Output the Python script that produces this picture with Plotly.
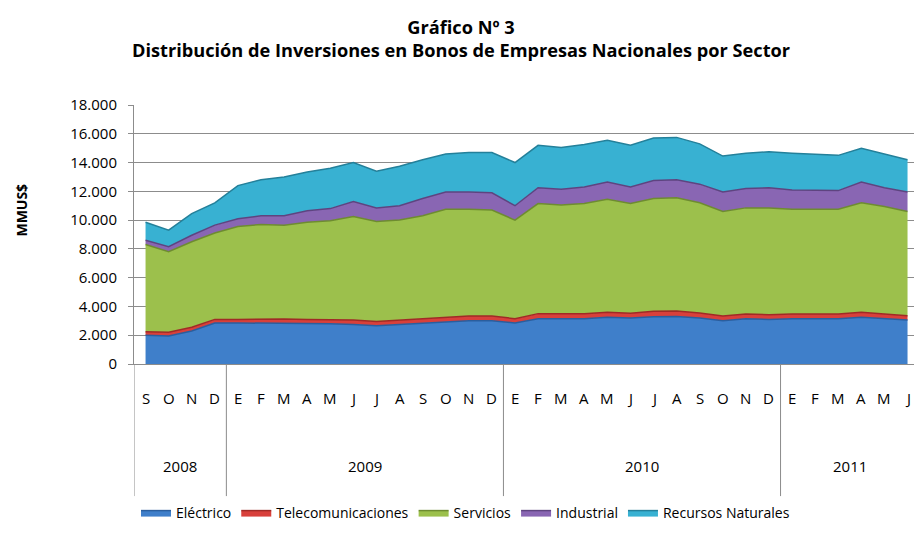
import plotly.graph_objects as go

years = ["2008", "2009", "2010", "2011"]
months_per_year = [4, 12, 12, 6]
month_labels = ["S", "O", "N", "D",
                "E", "F", "M", "A", "M", "J", "J", "A", "S", "O", "N", "D",
                "E", "F", "M", "A", "M", "J", "J", "A", "S", "O", "N", "D",
                "E", "F", "M", "A", "M", "J"]

electrico = [2000, 1950, 2300, 2850,
             2850, 2850, 2850, 2800, 2800, 2750, 2650, 2750, 2850, 2950, 3000, 3000,
             2850, 3150, 3150, 3150, 3250, 3200, 3280, 3300, 3200, 3000, 3150, 3100,
             3150, 3150, 3150, 3250, 3150, 3050]
telecom = [250, 250, 250, 250,
           250, 280, 280, 300, 300, 300, 300, 300, 320, 320, 330, 330,
           300, 350, 350, 350, 350, 330, 380, 380, 350, 330, 330, 330,
           330, 330, 330, 350, 330, 300]
servicios = [6050, 5600, 5950, 6000,
             6450, 6570, 6520, 6750, 6850, 7200, 6950, 6950, 7130, 7480, 7420, 7370,
             6850, 7650, 7550, 7650, 7850, 7620, 7840, 7870, 7650, 7270, 7370, 7420,
             7270, 7270, 7270, 7600, 7470, 7250]
industrial = [300, 350, 450, 550,
              550, 600, 650, 800, 850, 1050, 950, 1000, 1200, 1200, 1200, 1200,
              1000, 1100, 1100, 1150, 1200, 1150, 1250, 1250, 1300, 1350, 1350, 1400,
              1350, 1350, 1300, 1450, 1300, 1350]
recursos = [1250, 1150, 1500, 1550,
            2300, 2500, 2700, 2700, 2800, 2700, 2550, 2750, 2700, 2650, 2750, 2800,
            3000, 2950, 2900, 2950, 2900, 2900, 2950, 2950, 2800, 2500, 2450, 2500,
            2550, 2500, 2450, 2350, 2350, 2250]

series = [
    ("Eléctrico", electrico, "#3F7FCA", "#2A5E9E"),
    ("Telecomunicaciones", telecom, "#D8403B", "#A02A26"),
    ("Servicios", servicios, "#9CC04C", "#6E8C30"),
    ("Industrial", industrial, "#8966B3", "#5E4480"),
    ("Recursos Naturales", recursos, "#38B1D2", "#24809A"),
]

x = list(range(len(month_labels)))

fig = go.Figure()
for name, vals, fc, lc in series:
    fig.add_trace(go.Scatter(
        x=x, y=vals, name=name, mode="lines", stackgroup="one",
        line=dict(color=lc, width=1.5), fillcolor=fc,
    ))

# year group boundaries and centers
bounds = [-0.5]
for n in months_per_year:
    bounds.append(bounds[-1] + n)
centers = [(bounds[i] + bounds[i + 1]) / 2 for i in range(len(years))]

shapes = []
for b in bounds[:-1]:
    shapes.append(dict(type="line", xref="x", yref="paper", x0=b, x1=b,
                       y0=0, y1=-0.51, line=dict(color="#8C8C8C", width=1)))

annotations = []
for xi, lab in zip(x, month_labels):
    annotations.append(dict(x=xi, y=-0.131, xref="x", yref="paper", text=lab,
                            showarrow=False, yanchor="middle", xanchor="center",
                            font=dict(size=15, color="#000")))
for yr, c in zip(years, centers):
    annotations.append(dict(x=c, y=-0.394, xref="x", yref="paper", text=yr,
                            showarrow=False, yanchor="middle", xanchor="center",
                            font=dict(size=15, color="#000")))
annotations.append(dict(x=-0.144, y=0.595, xref="paper", yref="paper", text="<b>MMUS$</b>",
                        textangle=-90, showarrow=False, xanchor="center", yanchor="middle",
                        font=dict(size=14, color="#000")))

fig.update_layout(
    width=906, height=522,
    margin=dict(l=126, r=0, t=97, b=166, autoexpand=False),
    paper_bgcolor="white", plot_bgcolor="white",
    separators=",.",
    font=dict(family="Open Sans, DejaVu Sans, sans-serif", color="#000"),
    title=dict(text="<b>Gráfico Nº 3<br>Distribución de Inversiones en Bonos de Empresas Nacionales por Sector</b>",
               x=0.5, xref="container", xanchor="center", y=0.951, yanchor="top",
               font=dict(size=18.2, color="#000")),
    xaxis=dict(range=[-0.5, 33.28], tickmode="array", tickvals=x, ticktext=month_labels,
               showticklabels=False,
               showgrid=False, zeroline=False, showline=True, linecolor="#8C8C8C",
               ticks=""),
    yaxis=dict(range=[0, 18000], dtick=2000, tickformat=",.0f", showgrid=True,
               gridcolor="#8C8C8C", gridwidth=1, zeroline=False, showline=True,
               linecolor="#8C8C8C", ticks="outside", ticklen=5, tickcolor="#8C8C8C",
               ticklabelstandoff=8, tickfont=dict(size=15)),
    legend=dict(orientation="h", x=0.425, xanchor="center",
                y=-0.637, yanchor="bottom", font=dict(size=14),
                traceorder="normal"),
    shapes=shapes, annotations=annotations,
)

fig.write_html("out.html")
